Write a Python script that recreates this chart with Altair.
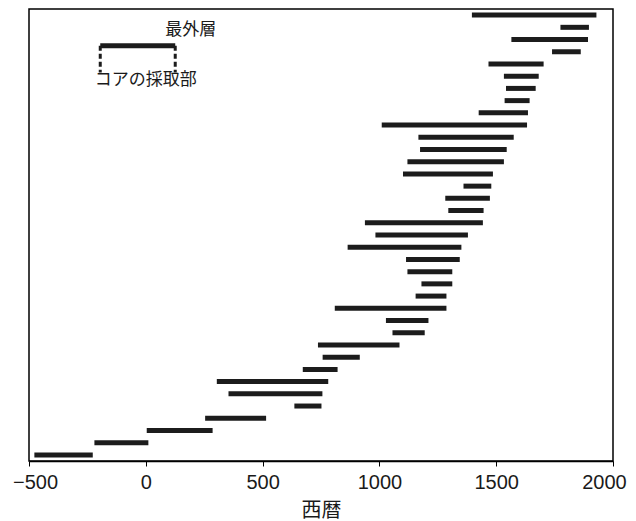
import altair as alt
import pandas as pd

# Each row: first year (core side) and last year (outermost ring), top row first
starts = [1396, 1775, 1565, 1739, 1467, 1533, 1542, 1536, 1425, 1010,
          1167, 1174, 1120, 1101, 1360, 1282, 1295, 938, 983, 864,
          1114, 1120, 1180, 1155, 809, 1028, 1056, 737, 757, 672,
          304, 354, 636, 254, 4, -220, -477]
ends = [1929, 1897, 1893, 1862, 1703, 1682, 1669, 1643, 1636, 1632,
        1575, 1545, 1533, 1486, 1479, 1473, 1446, 1443, 1379, 1351,
        1344, 1312, 1312, 1287, 1287, 1210, 1194, 1086, 916, 821,
        781, 756, 752, 515, 286, 11, -227]
tick_values = [-500, 0, 500, 1000, 1500, 2000]

n = len(starts)
df = pd.DataFrame({"start": starts, "end": ends, "row": [n - i for i in range(n)]})

xscale = alt.Scale(domain=[-500, 2000], nice=False, zero=False)
yscale = alt.Scale(domain=[0.5, n + 0.5], nice=False, zero=False)

bars = alt.Chart(df).mark_rule(color="#1c1c1c", strokeWidth=5, strokeCap="butt").encode(
    x=alt.X("start:Q", scale=xscale,
            axis=alt.Axis(values=tick_values, title="西暦", grid=False, labelFlush=False,
                          labelExpr="datum.value < 0 ? '−' + format(abs(datum.value), 'd') : format(datum.value, 'd')",
                          labelFont="Liberation Sans",
                          labelFontSize=20, labelColor="#1a1a1a", labelPadding=6,
                          labelOffset=alt.ExprRef("datum.value < 0 ? 6 : (datum.value >= 2000 ? -9 : 0)"),
                          tickSize=5, tickColor="black", tickWidth=1,
                          domainColor="black", domainWidth=1.5,
                          titleFont="Noto Sans CJK JP", titleFontSize=20,
                          titleFontWeight="normal", titleColor="#1a1a1a", titlePadding=8)),
    x2="end:Q",
    y=alt.Y("row:Q", scale=yscale, axis=None),
)

# key (legend) drawn in data coordinates
key_h = pd.DataFrame({"x": [-195], "x2": [126], "y": [34.5]})
key_v = pd.DataFrame({"x": [-195, 126], "y": [34.5, 34.5], "y2": [32.3, 32.3]})
key_t = pd.DataFrame({"x": [192, -219], "y": [35.78, 31.69],
                      "label": ["最外層", "コアの採取部"]})

kh = alt.Chart(key_h).mark_rule(color="#1c1c1c", strokeWidth=5, strokeCap="butt").encode(
    x=alt.X("x:Q", scale=xscale), x2="x2:Q", y=alt.Y("y:Q", scale=yscale))
kv = alt.Chart(key_v).mark_rule(color="#1c1c1c", strokeWidth=3, strokeDash=[5, 3], strokeCap="butt").encode(
    x=alt.X("x:Q", scale=xscale), y=alt.Y("y:Q", scale=yscale), y2="y2:Q")
kt1 = alt.Chart(key_t.iloc[[0]]).mark_text(font="Noto Sans CJK JP", fontSize=17, color="#1a1a1a",
                                           align="center", baseline="middle").encode(
    x=alt.X("x:Q", scale=xscale), y=alt.Y("y:Q", scale=yscale), text="label:N")
kt2 = alt.Chart(key_t.iloc[[1]]).mark_text(font="Noto Sans CJK JP", fontSize=17, color="#1a1a1a",
                                           align="left", baseline="middle").encode(
    x=alt.X("x:Q", scale=xscale), y=alt.Y("y:Q", scale=yscale), text="label:N")

chart = alt.layer(bars, kh, kv, kt1, kt2).properties(
    width=584, height=452,
    padding={"left": 21, "top": 1, "right": 15, "bottom": 60},
    autosize=alt.AutoSizeParams(type="none"),
    background="white",
).configure_view(stroke="black", strokeWidth=1.5)

chart.save("out.html", embed_options={"renderer": "svg", "actions": False})
